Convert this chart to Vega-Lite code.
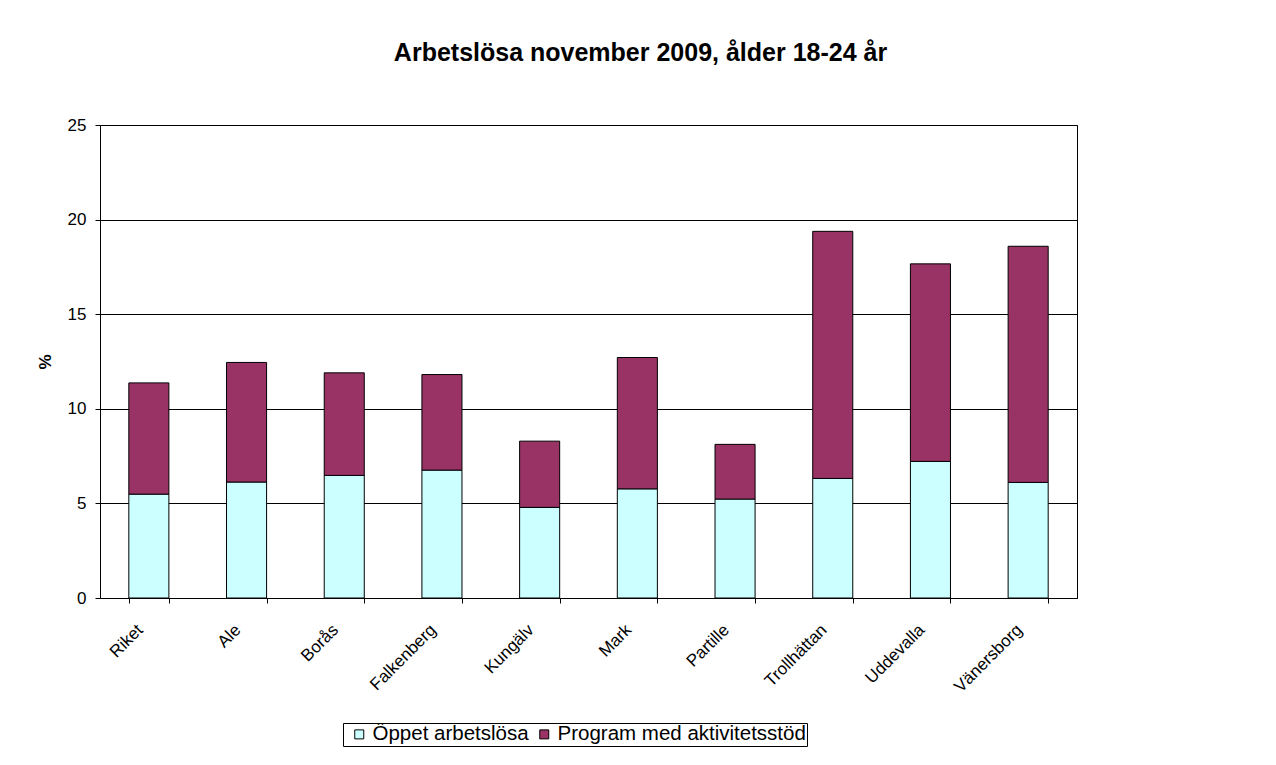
{
  "$schema": "https://vega.github.io/schema/vega-lite/v6.json",
  "width": 977,
  "height": 473,
  "autosize": {"type": "none"},
  "padding": {"left": 100, "top": 125, "right": 199, "bottom": 167},
  "background": "white",
  "title": {
    "text": "Arbetslösa november 2009, ålder 18-24 år",
    "font": "Liberation Sans",
    "fontSize": 25,
    "fontWeight": "bold",
    "color": "black",
    "anchor": "middle",
    "dx": 52,
    "offset": 50
  },
  "data": {
    "values": [
      {"kommun": "Riket", "serie": "Öppet arbetslösa", "procent": 5.49},
      {"kommun": "Riket", "serie": "Program med aktivitetsstöd", "procent": 5.88},
      {"kommun": "Ale", "serie": "Öppet arbetslösa", "procent": 6.13},
      {"kommun": "Ale", "serie": "Program med aktivitetsstöd", "procent": 6.32},
      {"kommun": "Borås", "serie": "Öppet arbetslösa", "procent": 6.48},
      {"kommun": "Borås", "serie": "Program med aktivitetsstöd", "procent": 5.42},
      {"kommun": "Falkenberg", "serie": "Öppet arbetslösa", "procent": 6.76},
      {"kommun": "Falkenberg", "serie": "Program med aktivitetsstöd", "procent": 5.05},
      {"kommun": "Kungälv", "serie": "Öppet arbetslösa", "procent": 4.79},
      {"kommun": "Kungälv", "serie": "Program med aktivitetsstöd", "procent": 3.50},
      {"kommun": "Mark", "serie": "Öppet arbetslösa", "procent": 5.77},
      {"kommun": "Mark", "serie": "Program med aktivitetsstöd", "procent": 6.94},
      {"kommun": "Partille", "serie": "Öppet arbetslösa", "procent": 5.23},
      {"kommun": "Partille", "serie": "Program med aktivitetsstöd", "procent": 2.89},
      {"kommun": "Trollhättan", "serie": "Öppet arbetslösa", "procent": 6.32},
      {"kommun": "Trollhättan", "serie": "Program med aktivitetsstöd", "procent": 13.06},
      {"kommun": "Uddevalla", "serie": "Öppet arbetslösa", "procent": 7.22},
      {"kommun": "Uddevalla", "serie": "Program med aktivitetsstöd", "procent": 10.44},
      {"kommun": "Vänersborg", "serie": "Öppet arbetslösa", "procent": 6.11},
      {"kommun": "Vänersborg", "serie": "Program med aktivitetsstöd", "procent": 12.48}
    ]
  },
  "mark": {"type": "bar", "stroke": "black", "strokeWidth": 1},
  "encoding": {
    "x": {
      "field": "kommun",
      "type": "nominal",
      "sort": null,
      "scale": {"paddingInner": 0.59, "paddingOuter": 0.295},
      "axis": {
        "title": null,
        "labelAngle": -45,
        "labelAlign": "right",
        "labelBaseline": "middle",
        "labelPadding": 24,
        "labelOffset": -9,
        "labelFontSize": 17,
        "tickBand": "extent",
        "tickSize": 5,
        "grid": false
      }
    },
    "y": {
      "field": "procent",
      "type": "quantitative",
      "stack": "zero",
      "scale": {"domain": [0, 25], "nice": false},
      "axis": {
        "title": "%",
        "titleFontWeight": "bold",
        "titleFontSize": 17,
        "titlePadding": 13,
        "values": [0, 5, 10, 15, 20, 25],
        "labelFontSize": 17,
        "labelPadding": 9,
        "tickSize": 5,
        "grid": true
      }
    },
    "color": {
      "field": "serie",
      "type": "nominal",
      "scale": {
        "domain": ["Öppet arbetslösa", "Program med aktivitetsstöd"],
        "range": ["#CCFFFF", "#993366"]
      },
      "legend": {
        "title": null,
        "orient": "none",
        "legendX": 243,
        "legendY": 598,
        "direction": "horizontal",
        "strokeColor": "black",
        "fillColor": "white",
        "padding": 1,
        "symbolType": "square",
        "symbolSize": 81,
        "symbolStrokeColor": "black",
        "symbolStrokeWidth": 1,
        "symbolOffset": 5,
        "labelFontSize": 20.5,
        "labelOffset": 3,
        "labelLimit": 500,
        "columnPadding": -4,
        "labelColor": "black",
        "labelFont": "Liberation Sans"
      }
    },
    "order": {"field": "serie", "sort": "descending"}
  },
  "config": {
    "font": "Liberation Sans",
    "view": {"stroke": "black", "strokeWidth": 1},
    "axis": {
      "labelFont": "Liberation Sans",
      "titleFont": "Liberation Sans",
      "labelColor": "black",
      "titleColor": "black",
      "domainColor": "black",
      "tickColor": "black",
      "gridColor": "black",
      "gridWidth": 1,
      "domainWidth": 1,
      "tickWidth": 1
    }
  }
}
